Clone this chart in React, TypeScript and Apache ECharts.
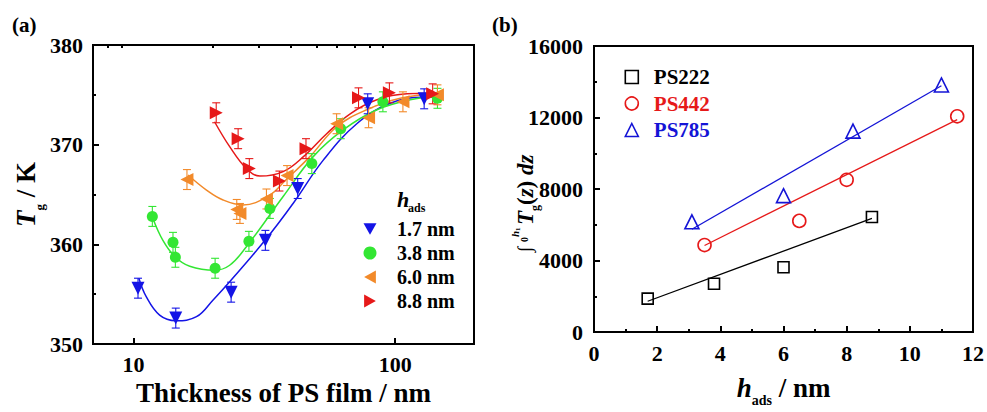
import React, { useEffect, useRef } from "react";
import * as echarts from "echarts";

const FONT = "'Liberation Serif', 'Times New Roman', serif";

// ---- Panel (a): Tg vs thickness ----
const names = ["1.7 nm", "3.8 nm", "6.0 nm", "8.8 nm"];
const colorsA = ["#1414e6", "#33e633", "#f28a2a", "#e61919"];
const symbolsA = ["triangle", "circle", "triangle", "triangle"];
const rotA = [180, 0, 90, -90];
const sizeA = [13, 11, 13, 13];
const legendIconsA = [
  "path://M0,0L10,0L5,9Z",
  "circle",
  "path://M10,0L10,10L1,5Z",
  "path://M0,0L0,10L9,5Z",
];

const thick17 = [10.4, 14.5, 23.6, 31.9, 42.4, 78.5, 129];
const tg17 = [355.6, 352.6, 355.2, 360.4, 365.6, 374.1, 374.6];
const err17 = [1.0, 1.0, 1.0, 1.0, 1.0, 1.0, 1.0];

const thick38 = [11.8, 14.15, 14.45, 20.5, 27.6, 33.2, 48.0, 61.9, 89.7, 145];
const tg38 = [362.8, 360.2, 358.7, 357.6, 360.3, 363.6, 368.1, 371.6, 374.3, 374.65];
const err38 = [1.0, 1.0, 1.0, 1.0, 1.0, 1.0, 1.0, 1.0, 1.0, 1.0];

const thick60 = [16.0, 24.8, 25.5, 32.2, 38.6, 59.7, 79.1, 107, 145];
const tg60 = [366.5, 363.5, 363.1, 364.55, 366.9, 372.1, 372.7, 374.3, 375.0];
const err60 = [1.0, 1.0, 1.0, 1.0, 1.0, 1.0, 1.0, 1.0, 1.0];

const thick88 = [20.7, 25.1, 27.7, 36.1, 45.6, 72.4, 95.0, 139];
const tg88 = [373.2, 370.6, 367.6, 366.35, 369.6, 374.7, 375.2, 375.1];
const err88 = [1.0, 1.0, 1.0, 1.0, 1.0, 1.0, 1.0, 1.0];

// fitted curves
const fit17x = [10.48, 11.18, 12.58, 14.5, 17.4, 20.1, 23.3, 31.8, 40.7, 53.1, 71.3, 95.7, 128, 144];
const fit17y = [356.6, 354.75, 352.9, 352.34, 352.74, 354.4, 356.25, 360.4, 364.1, 368.45, 372.1, 374.15, 374.75, 374.75];
const fit38x = [11.86, 12.95, 14.4, 16.4, 20.4, 23.3, 27.0, 37.3, 48.6, 63.4, 85.1, 114, 144];
const fit38y = [362.6, 360.4, 358.76, 357.8, 357.4, 357.9, 359.76, 364.8, 368.8, 371.5, 373.5, 374.5, 374.8];
const fit60x = [16.15, 19.0, 22.0, 26.2, 33.2, 38.0, 47.2, 59.8, 77.8, 104.5, 144];
const fit60y = [366.96, 365.45, 364.45, 363.95, 364.95, 366.4, 368.8, 371.8, 373.5, 374.65, 375.1];
const fit88x = [20.4, 23.3, 27.0, 30.4, 37.3, 44.6, 54.7, 67.3, 85.1, 111, 140];
const fit88y = [372.3, 369.8, 367.6, 366.85, 367.3, 368.8, 371.1, 373.1, 374.5, 375.1, 375.15];

const xMajorA = [10, 100];
const xMinorA = [8, 9, 20, 30, 40, 50, 60, 70, 80, 90];

// ---- Panel (b): integral vs h_ads ----
const namesB = ["PS222", "PS442", "PS785"];
const colorsB = ["#000000", "#e61919", "#1414d6"];
const symbolsB = ["rect", "circle", "triangle"];
const sizeB = [11, 13, 14];
const h222 = [1.7, 3.8, 6.0, 8.8];
const v222 = [1870, 2700, 3630, 6440];
const h442 = [3.5, 6.5, 8.0, 11.5];
const v442 = [4870, 6220, 8520, 12070];
const h785 = [3.1, 6.0, 8.2, 11.0];
const v785 = [6170, 7630, 11240, 13820];
const fit222x = [1.7, 8.8];
const fit222y = [1725, 6355];
const fit442x = [3.5, 11.5];
const fit442y = [4845, 11885];
const fit785x = [3.1, 11.0];
const fit785y = [5753, 13774];

const zip = (a: number[], b: number[]) => a.map((v, i) => [v, b[i]]);
const zip3 = (a: number[], b: number[], c: number[]) => a.map((v, i) => [v, b[i], c[i]]);

const axisLabelStyle = { fontFamily: FONT, fontSize: 22, fontWeight: "bold" as const, color: "#000" };
const lineBlack = { color: "#000", width: 2 };

export default function App() {
  const ref = useRef<HTMLDivElement>(null);
  useEffect(() => {
    if (!ref.current) return;
    const chart = echarts.init(ref.current, null, { renderer: "svg" });

    const ptsA = [zip(thick17, tg17), zip(thick38, tg38), zip(thick60, tg60), zip(thick88, tg88)];
    const errA = [zip3(thick17, tg17, err17), zip3(thick38, tg38, err38), zip3(thick60, tg60, err60), zip3(thick88, tg88, err88)];
    const fitsA = [zip(fit17x, fit17y), zip(fit38x, fit38y), zip(fit60x, fit60y), zip(fit88x, fit88y)];
    const ptsB = [zip(h222, v222), zip(h442, v442), zip(h785, v785)];
    const fitsB = [zip(fit222x, fit222y), zip(fit442x, fit442y), zip(fit785x, fit785y)];

    const series: any[] = [];
    fitsA.forEach((d, i) => {
      series.push({
        name: "fit" + i, type: "line", xAxisIndex: 0, yAxisIndex: 0, data: d,
        smooth: 0.4, showSymbol: false, symbol: "none",
        lineStyle: { color: colorsA[i], width: 1.5 }, z: 2,
      });
    });
    errA.forEach((d, i) => {
      series.push({
        name: "err" + i, type: "custom", xAxisIndex: 0, yAxisIndex: 0, data: d,
        encode: { x: 0, y: 1 }, z: 3,
        renderItem: (params: any, api: any) => {
          const x = api.value(0), y = api.value(1), e = api.value(2);
          const t = api.coord([x, y + e]);
          const b = api.coord([x, y - e]);
          const hw = 4;
          const st = { stroke: colorsA[i], lineWidth: 1.1 };
          return {
            type: "group",
            children: [
              { type: "line", shape: { x1: t[0], y1: t[1], x2: b[0], y2: b[1] }, style: st },
              { type: "line", shape: { x1: t[0] - hw, y1: t[1], x2: t[0] + hw, y2: t[1] }, style: st },
              { type: "line", shape: { x1: b[0] - hw, y1: b[1], x2: b[0] + hw, y2: b[1] }, style: st },
            ],
          };
        },
      });
    });
    ptsA.forEach((d, i) => {
      series.push({
        name: names[i], type: "scatter", xAxisIndex: 0, yAxisIndex: 0, data: d,
        symbol: symbolsA[i], symbolRotate: rotA[i], symbolSize: sizeA[i],
        itemStyle: { color: colorsA[i], opacity: 1 }, z: 4,
      });
    });
    fitsB.forEach((d, i) => {
      series.push({
        name: "fitB" + i, type: "line", xAxisIndex: 2, yAxisIndex: 1, data: d,
        showSymbol: false, symbol: "none",
        lineStyle: { color: colorsB[i], width: 1.3 }, z: 2,
      });
    });
    ptsB.forEach((d, i) => {
      series.push({
        name: namesB[i], type: "scatter", xAxisIndex: 2, yAxisIndex: 1, data: d,
        symbol: symbolsB[i], symbolSize: sizeB[i],
        itemStyle: { color: "rgba(255,255,255,0)", borderColor: colorsB[i], borderWidth: 1.6, opacity: 1 }, z: 4,
      });
    });

    const bold = (fs: number, italic = false, fill = "#000") => ({
      fontFamily: FONT, fontSize: fs, fontWeight: "bold", fontStyle: italic ? "italic" : "normal", fill,
    });

    // right y-axis title: ∫_0^{h1} T_g(z) dz, built in a rotated group (baseline at local y = 0)
    const yTitleB = {
      type: "group", x: 533, y: 252, rotation: Math.PI / 2,
      children: [
        { type: "text", x: 0, y: -9, style: { text: "∫", fontFamily: FONT, fontSize: 19, fill: "#000", align: "left", verticalAlign: "middle" } },
        { type: "text", x: 10, y: -9, style: { ...bold(10), text: "0", align: "left", verticalAlign: "middle" } },
        { type: "text", x: 15, y: -18, style: { ...bold(11, true), text: "h", align: "left", verticalAlign: "middle" } },
        { type: "text", x: 21, y: -15, style: { ...bold(7), text: "1", align: "left", verticalAlign: "middle" } },
        { type: "text", x: 27, y: -7.8, style: { ...bold(23, true), text: "T", align: "left", verticalAlign: "middle" } },
        { type: "text", x: 41, y: 1.5, style: { ...bold(12), text: "g", align: "left", verticalAlign: "middle" } },
        {
          type: "text", x: 47, y: -7.8,
          style: {
            text: "{p|(}{z|z}{p|)}{p| }{z|dz}", align: "left", verticalAlign: "middle",
            rich: {
              p: { fontFamily: FONT, fontSize: 23, fontWeight: "bold", fill: "#000", lineHeight: 23 },
              z: { fontFamily: FONT, fontSize: 23, fontWeight: "bold", fontStyle: "italic", fill: "#000", lineHeight: 23 },
            },
          },
        },
      ],
    };

    const option: any = {
      animation: false,
      backgroundColor: "#fff",
      grid: [
        { left: 93, top: 45, width: 381, height: 299, show: true, borderColor: "#000", borderWidth: 2, backgroundColor: "transparent" },
        { left: 594, top: 46, width: 381, height: 300, show: true, borderColor: "#000", borderWidth: 2, backgroundColor: "transparent" },
      ],
      xAxis: [
        {
          gridIndex: 0, type: "log", logBase: 10, min: 7, max: 200,
          axisLine: { lineStyle: lineBlack },
          axisTick: { inside: true, length: 6, lineStyle: lineBlack, customValues: xMajorA },
          axisLabel: { ...axisLabelStyle, margin: 9, customValues: xMajorA },
          splitLine: { show: false },
          name: "Thickness of PS film / nm", nameLocation: "middle", nameGap: 35,
          nameTextStyle: { fontFamily: FONT, fontSize: 27, fontWeight: "bold", color: "#000", lineHeight: 27 },
        },
        {
          gridIndex: 0, type: "log", logBase: 10, min: 7, max: 200,
          axisLine: { show: false },
          axisTick: { inside: true, length: 3, lineStyle: lineBlack, customValues: xMinorA },
          axisLabel: { show: false },
          splitLine: { show: false },
        },
        {
          gridIndex: 1, type: "value", min: 0, max: 12, interval: 2,
          axisLine: { lineStyle: lineBlack },
          axisTick: { inside: true, length: 6, lineStyle: lineBlack },
          minorTick: { show: true, splitNumber: 2, length: 3, lineStyle: lineBlack },
          axisLabel: { ...axisLabelStyle, margin: 10 },
          splitLine: { show: false },
          name: "{h|h}{a|ads}{n| / nm}", nameLocation: "middle", nameGap: 36,
          nameTextStyle: {
            rich: {
              h: { fontFamily: FONT, fontSize: 27, fontWeight: "bold", fontStyle: "italic", color: "#000", lineHeight: 27 },
              a: { fontFamily: FONT, fontSize: 14, fontWeight: "bold", color: "#000", lineHeight: 14, padding: [24, 0, 0, 0] },
              n: { fontFamily: FONT, fontSize: 27, fontWeight: "bold", color: "#000", lineHeight: 27 },
            },
          },
        },
      ],
      yAxis: [
        {
          gridIndex: 0, type: "value", min: 350, max: 380, interval: 10,
          axisLine: { lineStyle: lineBlack },
          axisTick: { inside: true, length: 6, lineStyle: lineBlack },
          minorTick: { show: true, splitNumber: 2, length: 3, lineStyle: lineBlack },
          axisLabel: { ...axisLabelStyle, margin: 10 },
          splitLine: { show: false },
          name: "{t|T}{s|g}{n| / K}", nameLocation: "middle", nameGap: 48, nameRotate: 90,
          nameTextStyle: {
            rich: {
              t: { fontFamily: FONT, fontSize: 27, fontWeight: "bold", fontStyle: "italic", color: "#000", lineHeight: 27 },
              s: { fontFamily: FONT, fontSize: 13, fontWeight: "bold", color: "#000", lineHeight: 13, padding: [28, 0, 0, 0] },
              n: { fontFamily: FONT, fontSize: 27, fontWeight: "bold", color: "#000", lineHeight: 27 },
            },
          },
        },
        {
          gridIndex: 1, type: "value", min: 0, max: 16000, interval: 4000,
          axisLine: { lineStyle: lineBlack },
          axisTick: { inside: true, length: 6, lineStyle: lineBlack },
          minorTick: { show: true, splitNumber: 2, length: 3, lineStyle: lineBlack },
          axisLabel: { ...axisLabelStyle, margin: 11, formatter: (v: number) => String(v) },
          splitLine: { show: false },
        },
      ],
      legend: [
        {
          orient: "vertical", left: 363.5, top: 219, itemWidth: 13, itemHeight: 13, itemGap: 4, padding: 0,
          selectedMode: false, symbolRotate: 0,
          data: names.map((n, i) => ({ name: n, icon: legendIconsA[i] })),
          textStyle: { fontFamily: FONT, fontSize: 20, fontWeight: "bold", color: "#000", lineHeight: 20, padding: [0, 0, 0, 15.5] },
        },
        {
          orient: "vertical", left: 624.5, top: 66.5, itemWidth: 13, itemHeight: 13, itemGap: 5.5, padding: 0,
          selectedMode: false,
          data: namesB.map((n, i) => ({
            name: n,
            itemStyle: { color: "rgba(255,255,255,0)", borderColor: colorsB[i], borderWidth: 1.6 },
            textStyle: { color: colorsB[i] },
          })),
          textStyle: { fontFamily: FONT, fontSize: 21, fontWeight: "bold", color: "#000", lineHeight: 21, padding: [0, 0, 0, 10.5] },
        },
      ],
      graphic: [
        { type: "text", left: 12, top: 14, style: { text: "(a)", fontFamily: FONT, fontSize: 21, fontWeight: "bold", fill: "#000" } },
        { type: "text", left: 492, top: 14, style: { text: "(b)", fontFamily: FONT, fontSize: 21, fontWeight: "bold", fill: "#000" } },
        { type: "text", left: 397, top: 188, style: { text: "h", fontFamily: FONT, fontSize: 22, fontWeight: "bold", fontStyle: "italic", fill: "#000" } },
        { type: "text", left: 408, top: 202, style: { text: "ads", fontFamily: FONT, fontSize: 12, fontWeight: "bold", fill: "#000" } },
        yTitleB,
      ],
      series,
    };
    chart.setOption(option);
    return () => chart.dispose();
  }, []);
  return <div ref={ref} style={{ position: "fixed", left: 0, top: 0, width: 987, height: 412 }} />;
}
